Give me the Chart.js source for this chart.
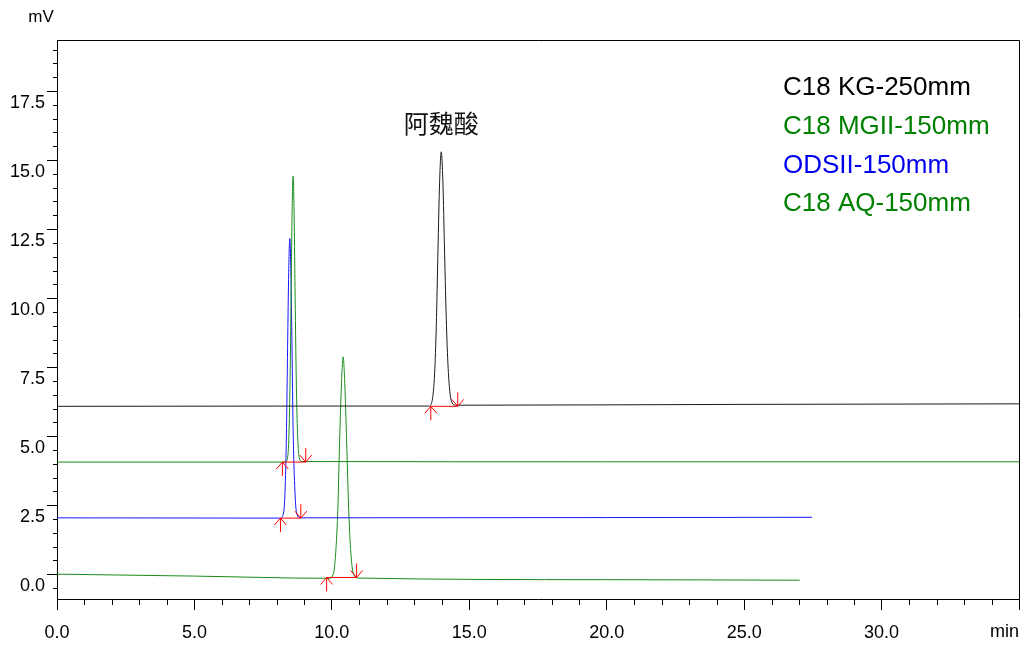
<!DOCTYPE html>
<html>
<head>
<meta charset="utf-8">
<script src="https://cdn.jsdelivr.net/npm/chart.js@4.4.0/dist/chart.umd.min.js"></script>
<style>
html, body { margin: 0; padding: 0; background: #fff; }
#wrap { width: 1034px; height: 646px; position: relative; }
</style>
</head>
<body>
<div id="wrap"><canvas id="chrom"></canvas></div>
<script>
// chromatogram traces, [min, mV]
const seriesNames = ['C18 KG-250mm', 'C18 MGII-150mm', 'ODSII-150mm', 'C18 AQ-150mm']
const kgTrace = [[0, 6.08], [10, 6.09], [13.53, 6.09], [13.65, 6.29], [13.74, 7.3], [13.80, 9.0], [13.86, 11.7],
  [13.92, 14.2], [13.98, 15.3], [14.04, 14.2], [14.10, 11.7], [14.17, 9.0], [14.24, 7.3], [14.34, 6.3],
  [14.5, 6.12], [25, 6.15], [35, 6.17]]
const mgTrace = [[0, 4.06], [8.3, 4.06], [8.40, 4.3], [8.45, 5.46], [8.485, 7.37], [8.52, 10.38], [8.555, 13.18],
  [8.59, 14.42], [8.625, 13.18], [8.66, 10.38], [8.70, 7.37], [8.74, 5.46], [8.80, 4.3], [8.9, 4.08],
  [20, 4.07], [35, 4.07]]
const odsTrace = [[0, 2.04], [8.12, 2.03], [8.25, 2.26], [8.31, 3.4], [8.35, 5.27], [8.39, 8.21], [8.43, 10.94],
  [8.47, 12.16], [8.51, 10.94], [8.55, 8.21], [8.59, 5.27], [8.64, 3.4], [8.71, 2.26], [8.85, 2.04],
  [20, 2.05], [27.47, 2.06]]
const aqTrace = [[0, 0.0], [5, -0.07], [9.9, -0.15], [10.06, 0.03], [10.15, 0.93], [10.22, 2.42], [10.28, 4.74],
  [10.35, 6.91], [10.41, 7.87], [10.47, 6.91], [10.54, 4.74], [10.61, 2.42], [10.68, 0.93], [10.78, 0.03],
  [10.95, -0.14], [20, -0.2], [27.02, -0.22]]

// integration marks (start / end of peak, baseline level)
const peakStart = [13.6, 8.2, 8.13, 9.81]
const peakEnd = [14.58, 9.05, 8.87, 10.9]
const peakBase = [6.08, 4.06, 2.03, -0.12]
const peakName = '阿魏酸'

const xTicks = [0, 5, 10, 15, 20, 25, 30, 35]
const yTicks = [0, 2.5, 5, 7.5, 10, 12.5, 15, 17.5]

const traces = [kgTrace, mgTrace, odsTrace, aqTrace]
const lineColors = ['#1a1a1a', '#1a8c1a', '#1515ff', '#1a8c1a']
const textColors = ['#000000', '#008000', '#0000ee', '#008000']

var datasets = []
traces.forEach(function (tr, i) {
  datasets.push({
    label: seriesNames[i],
    data: tr.map(p => ({ x: p[0], y: p[1] })),
    borderColor: lineColors[i],
    borderWidth: 1,
    pointRadius: 0,
    cubicInterpolationMode: 'monotone',
    order: 1
  })
})
peakStart.forEach(function (s, i) {
  datasets.push({
    label: 'base' + i,
    data: [{ x: s, y: peakBase[i] }, { x: peakEnd[i], y: peakBase[i] }],
    borderColor: '#ff0000',
    borderWidth: 1,
    pointRadius: 0,
    order: 0
  })
})

function arrow(ctx, x, y, up) {
  // tip sits on the baseline, shaft below (start) or above (end)
  const len = 14, w = 6
  const d = up ? 1 : -1
  ctx.moveTo(x, y)
  ctx.lineTo(x, y + d * len)
  ctx.moveTo(x - w, y + d * (w + 1))
  ctx.lineTo(x, y)
  ctx.lineTo(x + w, y + d * (w + 1))
}

const decor = {
  id: 'decor',
  afterDraw(chart) {
    const { ctx, chartArea: a } = chart
    const xs = chart.scales.x, ys = chart.scales.y
    ctx.save()
    ctx.strokeStyle = '#000'
    ctx.lineWidth = 1
    ctx.beginPath()
    // top and right side of the frame
    ctx.moveTo(a.left, Math.round(a.top) + 0.5)
    ctx.lineTo(Math.round(a.right) + 0.5, Math.round(a.top) + 0.5)
    ctx.lineTo(Math.round(a.right) + 0.5, a.bottom)
    // minor ticks
    for (let m = 0; m <= 35; m++) {
      if (m % 5 === 0) continue
      const px = Math.round(xs.getPixelForValue(m)) + 0.5
      ctx.moveTo(px, a.bottom)
      ctx.lineTo(px, a.bottom + 6)
    }
    for (let i = -1; i <= 38; i++) {
      if (i % 5 === 0) continue
      const v = i * 0.5
      if (v < ys.min || v > ys.max) continue
      const py = Math.round(ys.getPixelForValue(v)) + 0.5
      ctx.moveTo(a.left - 4, py)
      ctx.lineTo(a.left, py)
    }
    ctx.stroke()

    // peak start / end arrows
    ctx.strokeStyle = '#ff0000'
    ctx.beginPath()
    peakStart.forEach(function (s, i) {
      arrow(ctx, xs.getPixelForValue(s), ys.getPixelForValue(peakBase[i]), true)
      arrow(ctx, xs.getPixelForValue(peakEnd[i]), ys.getPixelForValue(peakBase[i]), false)
    })
    ctx.stroke()

    // texts
    ctx.fillStyle = '#000'
    ctx.textBaseline = 'middle'
    ctx.font = '17px "Liberation Sans", Arial, sans-serif'
    ctx.textAlign = 'center'
    ctx.fillText('mV', 41, 17)
    ctx.font = '18px "Liberation Sans", Arial, sans-serif'
    ctx.textAlign = 'right'
    ctx.fillText('min', a.right, 632)

    ctx.textAlign = 'left'
    ctx.font = '26px "Liberation Sans", Arial, sans-serif'
    seriesNames.forEach(function (n, i) {
      ctx.fillStyle = textColors[i]
      ctx.fillText(n, a.right - 236, a.top + 48 + i * 38.7)
    })

    // compound name above the KG peak
    let top = kgTrace[0]
    kgTrace.forEach(p => { if (p[1] > top[1]) top = p })
    ctx.fillStyle = '#111'
    ctx.textAlign = 'center'
    ctx.font = '25px "Noto Sans CJK SC", sans-serif'
    ctx.fillText(peakName, xs.getPixelForValue(top[0]), ys.getPixelForValue(top[1]) - 28)
    ctx.restore()
  }
}

const fnt = { family: '"Liberation Sans", Arial, sans-serif', size: 18 }

new Chart(document.getElementById('chrom'), {
  type: 'line',
  data: { datasets: datasets },
  options: {
    responsive: true,
    maintainAspectRatio: false,
    animation: false,
    layout: { padding: { top: 40, right: 15, left: 0, bottom: 0 } },
    plugins: { legend: { display: false }, tooltip: { enabled: false } },
    scales: {
      x: {
        type: 'linear',
        min: 0,
        max: 35,
        afterBuildTicks: s => { s.ticks = xTicks.map(v => ({ value: v })) },
        afterFit: s => { s.height = 47 },
        grid: { drawOnChartArea: false, tickLength: 11, color: '#000', tickColor: '#000' },
        border: { display: true, color: '#000', width: 1 },
        ticks: {
          color: '#000',
          font: fnt,
          padding: 12,
          maxRotation: 0,
          autoSkip: false,
          callback: v => (v === 35 ? '' : v.toFixed(1))
        }
      },
      y: {
        type: 'linear',
        min: -0.9,
        max: 19.35,
        afterBuildTicks: s => { s.ticks = yTicks.map(v => ({ value: v })) },
        afterFit: s => { s.width = 57 },
        grid: { drawOnChartArea: false, tickLength: 10, color: '#000', tickColor: '#000' },
        border: { display: true, color: '#000', width: 1 },
        ticks: {
          color: '#000',
          font: fnt,
          padding: 2,
          labelOffset: 12,
          autoSkip: false,
          callback: v => v.toFixed(1)
        }
      }
    }
  },
  plugins: [decor]
})
</script>
</body>
</html>
